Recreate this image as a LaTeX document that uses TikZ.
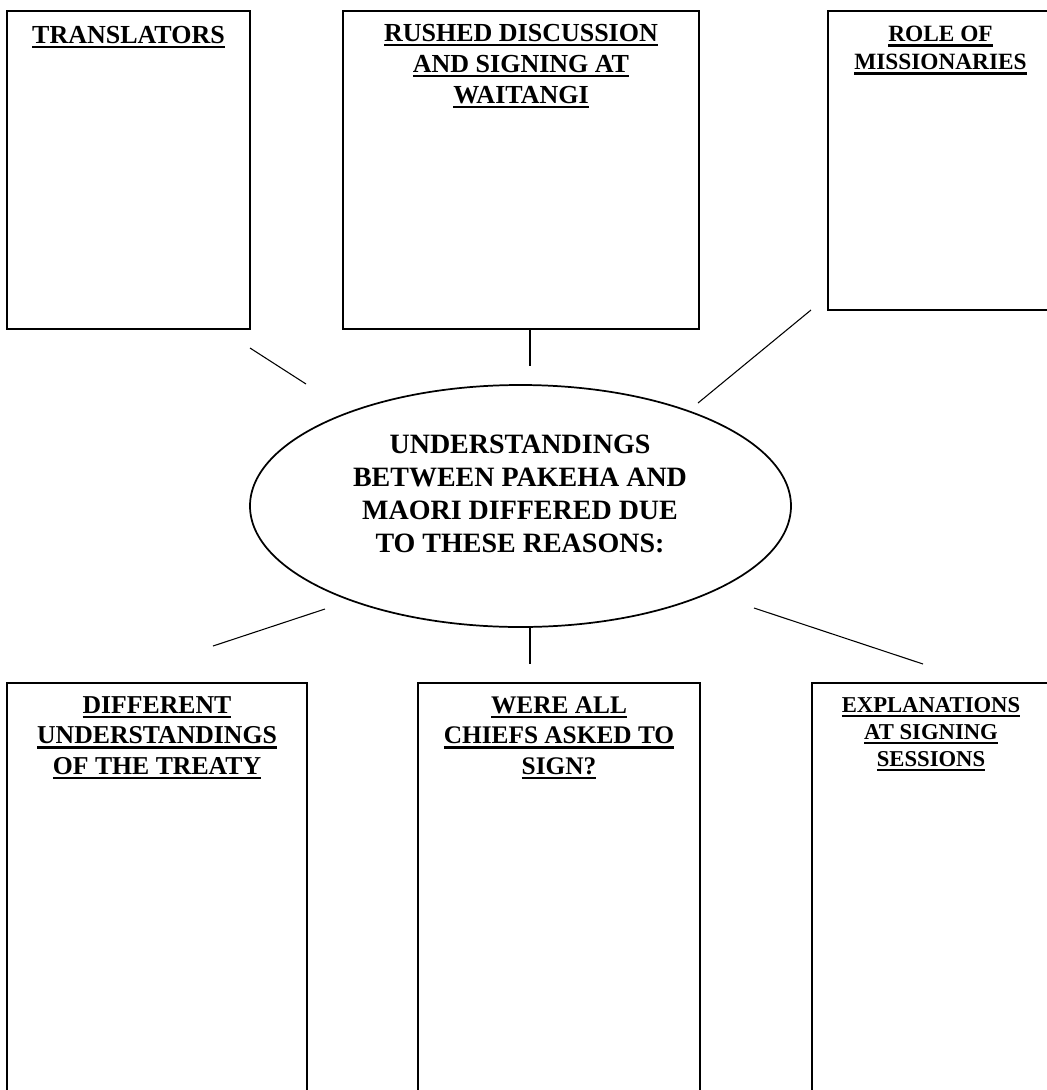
\documentclass[tikz,border=0pt]{standalone}
\usepackage{fontspec}
\setmainfont{Liberation Serif}
\usetikzlibrary{positioning,shapes.geometric}

% underlined heading line
\newcommand{\uln}[1]{\setbox0=\hbox{#1}\rlap{\rule[-3.6pt]{\wd0}{1.8pt}}\box0}

\tikzset{
  reason/.style={draw,line width=1.2pt,inner sep=0pt},
  hub/.style={draw,ellipse,line width=1.3pt,inner sep=0pt},
  heading/.style={align=center,inner sep=0pt,font=\bfseries\fontsize{19.5}{23.25}\selectfont},
  spoke/.style={line width=0.8pt},
}

\begin{document}
\begin{tikzpicture}[x=0.75pt,y=-0.75pt]
  \useasboundingbox (0,0) rectangle (1047,1090);
  \clip (0,0) rectangle (1047,1090);
  % top row of boxes
  \node[reason,minimum width=182.25pt,minimum height=238.5pt] (trans) at (128.5,170) {};
  \node[reason,minimum width=267pt,minimum height=238.5pt] (rushed) at (521,170) {};
  \node[reason,minimum width=168.75pt,minimum height=224.25pt] (mission) at (940.5,160.5) {};
  \node[heading,below=12pt of trans.north] (transhead) {\uln{TRANSLATORS}};
  \node[heading,below=10.5pt of rushed.north] (rushedhead) {\uln{RUSHED DISCUSSION}\\\uln{AND SIGNING AT}\\\uln{WAITANGI}};
  \node[heading,font=\bfseries\fontsize{17.5}{21}\selectfont,below=12pt of mission.north] (missionhead) {\uln{ROLE OF}\\\uln{MISSIONARIES}};
  % centre
  \node[hub,minimum width=405.75pt,minimum height=181.5pt] (core) at (520.5,506) {};
  \node[heading,font=\bfseries\fontsize{21}{24.75}\selectfont] (coretext) at (520,494) {UNDERSTANDINGS\\BETWEEN PAKEHA AND\\MAORI DIFFERED DUE\\TO THESE REASONS:};
  % bottom row of boxes
  \node[reason,minimum width=225pt,minimum height=320.25pt] (differ) at (157,896.5) {};
  \node[reason,minimum width=211.5pt,minimum height=320.25pt] (chiefs) at (559,896.5) {};
  \node[reason,minimum width=178.5pt,minimum height=320.25pt] (explain) at (931,896.5) {};
  \node[heading,font=\bfseries\fontsize{19.3}{23}\selectfont,below=10.5pt of differ.north] (differhead) {\uln{DIFFERENT}\\\uln{UNDERSTANDINGS}\\\uln{OF THE TREATY}};
  \node[heading,font=\bfseries\fontsize{19}{23}\selectfont,below=10.5pt of chiefs.north] (chiefshead) {\uln{WERE ALL}\\\uln{CHIEFS ASKED TO}\\\uln{SIGN?}};
  \node[heading,font=\bfseries\fontsize{17}{20.25}\selectfont,below=11pt of explain.north] (explainhead) {\uln{EXPLANATIONS}\\\uln{AT SIGNING}\\\uln{SESSIONS}};
  % spokes
  \coordinate (s1a) at (250,348); \coordinate (s1b) at (306,384);
  \coordinate (s2a) at (530,329); \coordinate (s2b) at (530,366);
  \coordinate (s3a) at (811,310); \coordinate (s3b) at (698,403);
  \coordinate (s4a) at (325,609); \coordinate (s4b) at (213,646);
  \coordinate (s5a) at (530,628); \coordinate (s5b) at (530,664);
  \coordinate (s6a) at (754,608); \coordinate (s6b) at (923,664);
  \foreach \a/\b in {s1a/s1b, s2a/s2b, s3a/s3b, s4a/s4b, s5a/s5b, s6a/s6b} \draw[spoke] (\a) -- (\b);
\end{tikzpicture}
\end{document}
